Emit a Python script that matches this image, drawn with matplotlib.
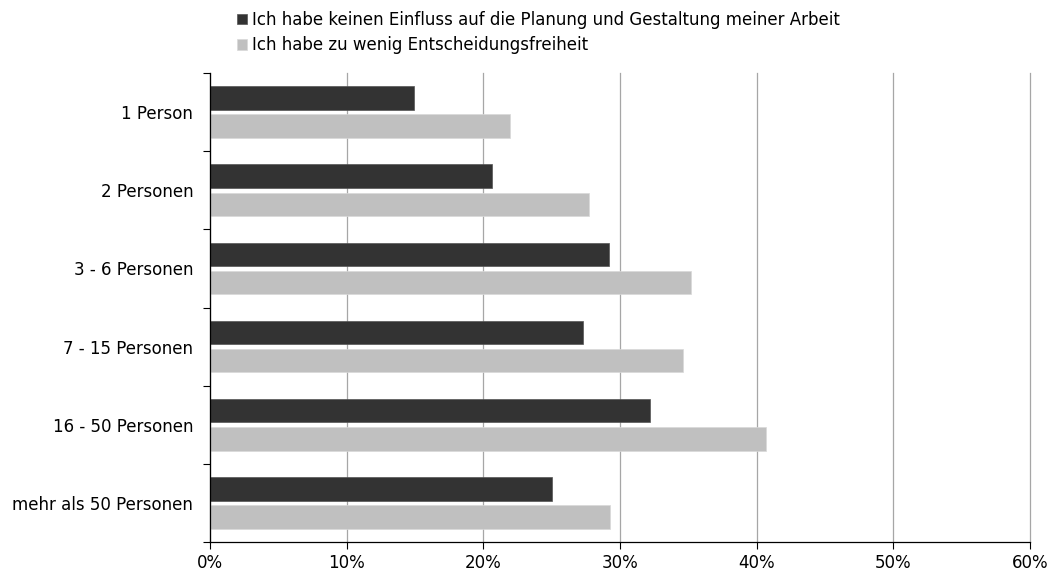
import matplotlib.pyplot as plt
import numpy as np
from matplotlib.ticker import FixedLocator

categories = ['1 Person', '2 Personen', '3 - 6 Personen', '7 - 15 Personen',
              '16 - 50 Personen', 'mehr als 50 Personen']
kein_einfluss = [14.9, 20.6, 29.2, 27.3, 32.2, 25.0]
zu_wenig_freiheit = [21.95, 27.7, 35.2, 34.6, 40.7, 29.3]
series_labels = ['Ich habe keinen Einfluss auf die Planung und Gestaltung meiner Arbeit',
                 'Ich habe zu wenig Entscheidungsfreiheit']
xticks = [0, 10, 20, 30, 40, 50, 60]

dark = '#333333'
light = '#c0c0c0'
fs = 12

plt.rcParams['font.family'] = ['DejaVu Sans']

fig = plt.figure(figsize=(10.5, 5.72), dpi=100)
ax = fig.add_axes([210 / 1050, 1 - 542 / 572, 820 / 1050, 469 / 572])

y = np.arange(len(categories))
h = 0.30
ax.barh(y - 0.18, kein_einfluss, height=h, color=dark, edgecolor='#555555', linewidth=0.5,
        label=series_labels[0], zorder=3)
ax.barh(y + 0.18, zu_wenig_freiheit, height=h, color=light, edgecolor='#d8d8d8', linewidth=0.5,
        label=series_labels[1], zorder=3)

ax.set_xlim(0, 60)
ax.set_ylim(len(categories) - 0.5, -0.5)
ax.set_xticks(xticks)
ax.set_xticklabels([f'{t}%' for t in xticks], fontsize=fs)
ax.set_yticks(y)
ax.set_yticklabels(categories, fontsize=fs)
ax.tick_params(axis='y', length=0, pad=12)
ax.yaxis.set_minor_locator(FixedLocator(np.arange(-0.5, len(categories), 1.0)))
ax.tick_params(axis='y', which='minor', length=5, width=0.8)
ax.tick_params(axis='x', length=5, width=0.8, pad=4)

ax.grid(axis='x', color='#a6a6a6', linewidth=0.9, zorder=0)
for gl in ax.get_xgridlines():
    gl.set_clip_on(False)
for s in ['top', 'right']:
    ax.spines[s].set_visible(False)
for s in ['left', 'bottom']:
    ax.spines[s].set_linewidth(0.9)
    ax.spines[s].set_zorder(4)

fig.legend(loc='upper left', bbox_to_anchor=(226 / 1050, 1.0), frameon=False,
           fontsize=fs, handlelength=0.6, handleheight=0.6, handletextpad=0.3,
           labelspacing=0.45, borderaxespad=0.25)

fig.savefig('out.png', dpi=100)
